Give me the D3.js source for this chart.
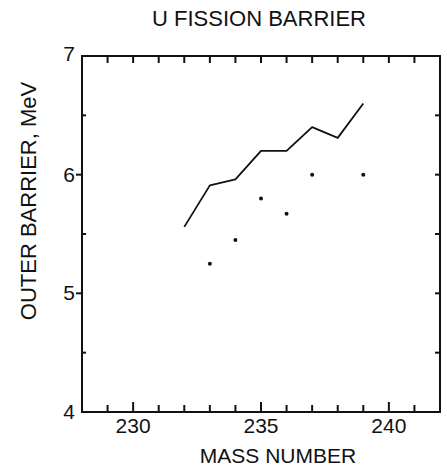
<!DOCTYPE html>
<html>
<head>
<meta charset="utf-8">
<script src="https://cdn.jsdelivr.net/npm/d3@7"></script>
<style>
  body { margin: 0; background: #fff; }
  text { font-family: "Liberation Sans", Arial, sans-serif; fill: #111; }
</style>
</head>
<body>
<div id="chart"></div>
<script>
// data
var massLine = [232, 233, 234, 235, 236, 237, 238, 239];
var barrierLine = [5.56, 5.91, 5.96, 6.2, 6.2, 6.4, 6.31, 6.6];
var massPts = [233, 234, 235, 236, 237, 239];
var barrierPts = [5.25, 5.45, 5.8, 5.67, 6.0, 6.0];
var xMajor = [230, 235, 240];
var yMajor = [4, 5, 6, 7];
var xMinor = [229, 230, 231, 232, 233, 234, 235, 236, 237, 238, 239, 240, 241];

var width = 447, height = 471;
var margin = {top: 56, bottom: 59, left: 82, right: 7};
var plotLeft = margin.left, plotRight = width - margin.right;
var plotTop = margin.top, plotBottom = height - margin.bottom;

var svg = d3.select("#chart").append("svg")
  .attr("width", width)
  .attr("height", height);

var x = d3.scaleLinear().domain([228, 242]).range([plotLeft, plotRight]);
var y = d3.scaleLinear().domain([4, 7]).range([plotBottom, plotTop]);

// frame
svg.append("rect")
  .attr("x", plotLeft).attr("y", plotTop)
  .attr("width", plotRight - plotLeft).attr("height", plotBottom - plotTop)
  .style("fill", "none").style("stroke", "#111").style("stroke-width", 2);

// top ticks (inward)
svg.append("g").selectAll("line").data(xMinor).enter().append("line")
  .attr("x1", function(d) { return x(d); }).attr("x2", function(d) { return x(d); })
  .attr("y1", plotTop).attr("y2", plotTop + 7)
  .style("stroke", "#111").style("stroke-width", 2);

// bottom ticks (inward, longer at labelled values)
svg.append("g").selectAll("line").data(xMinor).enter().append("line")
  .attr("x1", function(d) { return x(d); }).attr("x2", function(d) { return x(d); })
  .attr("y1", plotBottom)
  .attr("y2", function(d) { return plotBottom - (xMajor.indexOf(d) >= 0 ? 10 : 7); })
  .style("stroke", "#111").style("stroke-width", 2);

// left ticks: outward at 5 and 6, short inward at halves
svg.append("g").selectAll("line").data([5, 6]).enter().append("line")
  .attr("x1", plotLeft - 6).attr("x2", plotLeft)
  .attr("y1", function(d) { return y(d); }).attr("y2", function(d) { return y(d); })
  .style("stroke", "#111").style("stroke-width", 2);
svg.append("g").selectAll("line").data([4.5, 5.5, 6.5]).enter().append("line")
  .attr("x1", plotLeft).attr("x2", plotLeft + 4)
  .attr("y1", function(d) { return y(d); }).attr("y2", function(d) { return y(d); })
  .style("stroke", "#111").style("stroke-width", 2);

// right ticks (inward)
svg.append("g").selectAll("line").data([4.5, 5, 5.5, 6, 6.5]).enter().append("line")
  .attr("x1", plotRight - 5).attr("x2", plotRight)
  .attr("y1", function(d) { return y(d); }).attr("y2", function(d) { return y(d); })
  .style("stroke", "#111").style("stroke-width", 2);

// tick labels
svg.append("g").selectAll("text").data(xMajor)
  .enter().append("text")
  .attr("x", function(d) { return x(d); })
  .attr("y", plotBottom + 21)
  .attr("text-anchor", "middle")
  .style("font-size", "21px")
  .text(function(d) { return d; });

svg.append("g").selectAll("text").data(yMajor)
  .enter().append("text")
  .attr("x", plotLeft - 7)
  .attr("y", function(d) { return y(d) + (d == 7 ? 5 : 7); })
  .attr("text-anchor", "end")
  .style("font-size", "21px")
  .text(function(d) { return d; });

// line series
var lineData = massLine.map(function(m, i) { return {m: m, b: barrierLine[i]}; });
var valueLine = d3.line()
  .x(function(d) { return x(d.m); })
  .y(function(d) { return y(d.b); });
svg.append("path")
  .attr("d", valueLine(lineData))
  .style("fill", "none").style("stroke", "#111").style("stroke-width", 1.8)
  .style("stroke-linejoin", "round");

// dots
svg.append("g").selectAll("circle").data(massPts)
  .enter().append("circle")
  .attr("cx", function(d) { return x(d); })
  .attr("cy", function(d, i) { return y(barrierPts[i]); })
  .attr("r", 2)
  .style("fill", "#111");

// titles
svg.append("text")
  .attr("x", 259).attr("y", 26)
  .attr("text-anchor", "middle")
  .style("font-size", "22px")
  .text("U FISSION BARRIER");

svg.append("text")
  .attr("x", 278).attr("y", 463)
  .attr("text-anchor", "middle")
  .style("font-size", "21px")
  .text("MASS NUMBER");

svg.append("text")
  .attr("transform", "translate(36," + 201 + ") rotate(-90)")
  .attr("text-anchor", "middle")
  .style("font-size", "22px")
  .text("OUTER BARRIER, MeV");
</script>
</body>
</html>
